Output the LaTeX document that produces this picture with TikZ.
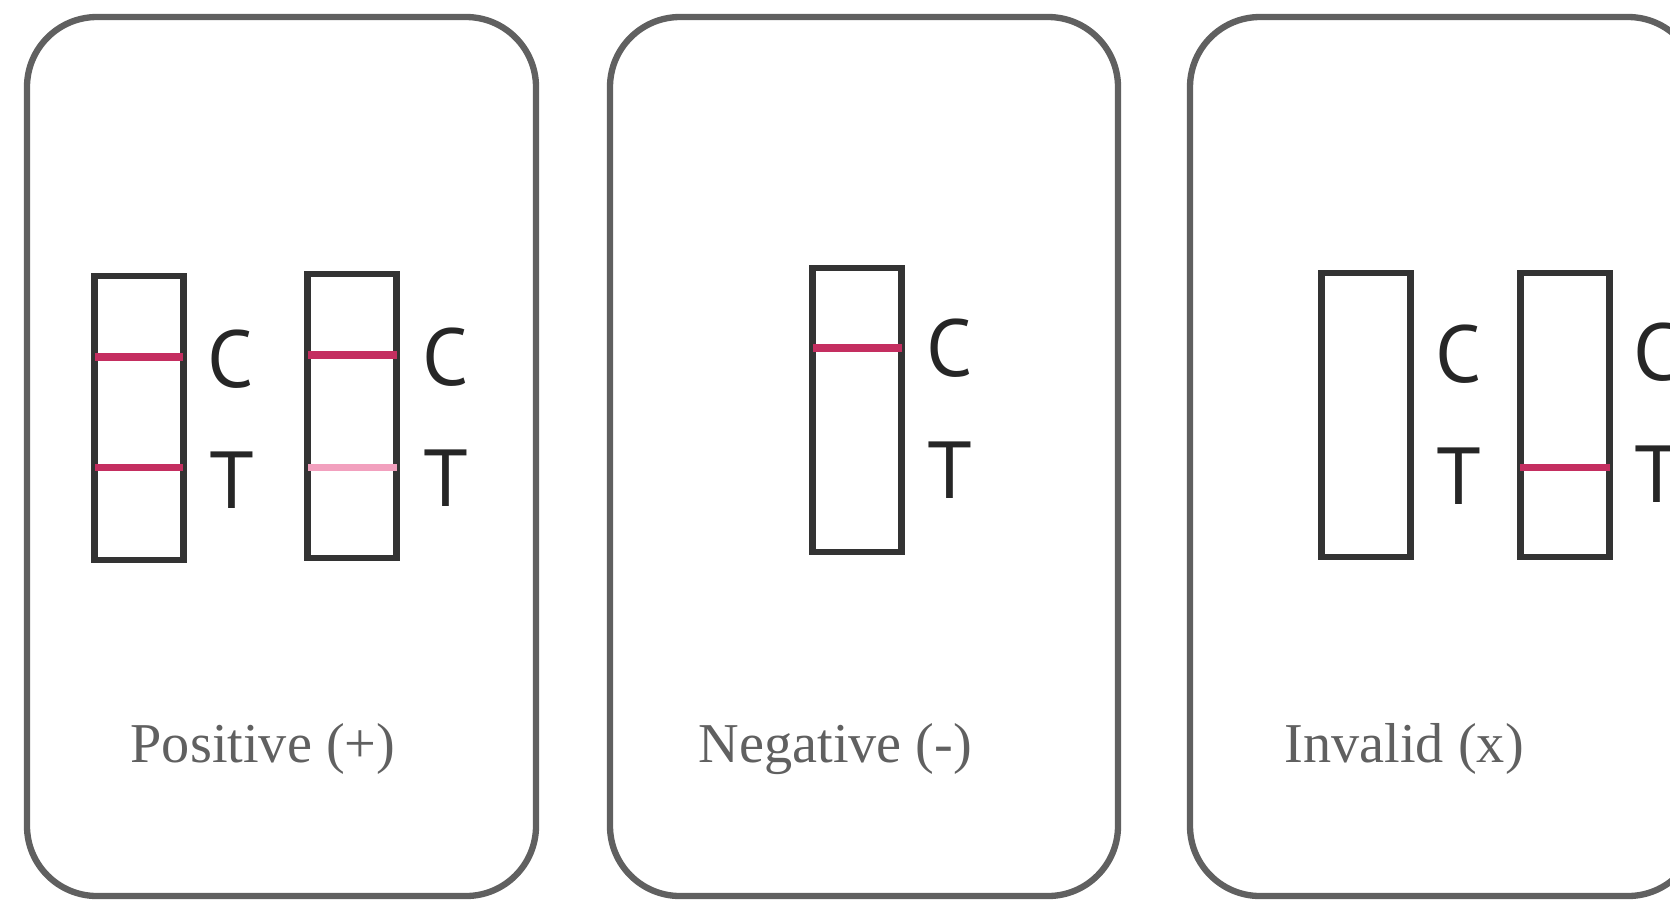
\documentclass[tikz,border=0pt]{standalone}
\usepackage{fontspec}
\setmainfont{Liberation Serif}
\newfontfamily\stripfont{PT Sans}
\definecolor{panelgray}{HTML}{606060}
\definecolor{bandred}{RGB}{196,46,96}
\definecolor{paleband}{RGB}{242,160,190}

\begin{document}
\begin{tikzpicture}[x = 0.01cm, y = -0.01cm,
		panel/.style = {draw = panelgray, line width = 1.8pt, rounded corners = 0.7cm},
		strip/.style = {draw = black!80, line width = 1.8pt, minimum width = 0.89cm, minimum height = 2.84cm, inner sep = 0pt},
		zone/.style = {font = \stripfont\fontsize{23}{23}\selectfont, text = black!85, inner sep = 0pt},
		band/.style = {draw = bandred, line width = 2pt},
		result/.style = {font = \fontsize{16}{18}\selectfont, text = panelgray, inner sep = 0pt, anchor = base west}]
		\useasboundingbox (0, 0) rectangle (1670, 899);
		\clip (0, 0) rectangle (1670, 899);
	% the three cards
		\draw[panel] (27, 17) rectangle (536, 896);
		\draw[panel] (610, 17) rectangle (1118, 896);
		\draw[panel] (1190, 17) rectangle (1698, 896);
	% positive
		\node[strip] (s1) at (139, 418) {};
		\node[strip] (s2) at (352, 416) {};
			\node[zone] (c1) at (231, 359) {C};
			\node[zone] (t1) at (232, 480) {T};
			\node[zone] (c2) at (446, 357) {C};
			\node[zone] (t2) at (446, 478) {T};
		\draw[band] (95, 357) -- (183, 357);
		\draw[band] (95, 467) -- (183, 467);
		\draw[band] (308, 355) -- (397, 355);
		\draw[band, draw = paleband] (308, 467) -- (397, 467);
			\node[result] (pos) at (130, 762) {Positive (+)};
	% negative
		\node[strip] (s3) at (857, 410) {};
			\node[zone] (c3) at (950, 348) {C};
			\node[zone] (t3) at (950, 470) {T};
		\draw[band] (813, 348) -- (902, 348);
			\node[result] (neg) at (698, 762) {Negative (-)};
	% invalid
		\node[strip] (s4) at (1366, 415) {};
		\node[strip] (s5) at (1565, 415) {};
			\node[zone] (c4) at (1459, 354) {C};
			\node[zone] (t4) at (1459, 476) {T};
			\node[zone] (c5) at (1657, 352) {C};
			\node[zone] (t5) at (1657, 474) {T};
		\draw[band] (1520, 467) -- (1610, 467);
			\node[result] (inv) at (1284, 762) {Invalid (x)};
	\end{tikzpicture}
\end{document}
